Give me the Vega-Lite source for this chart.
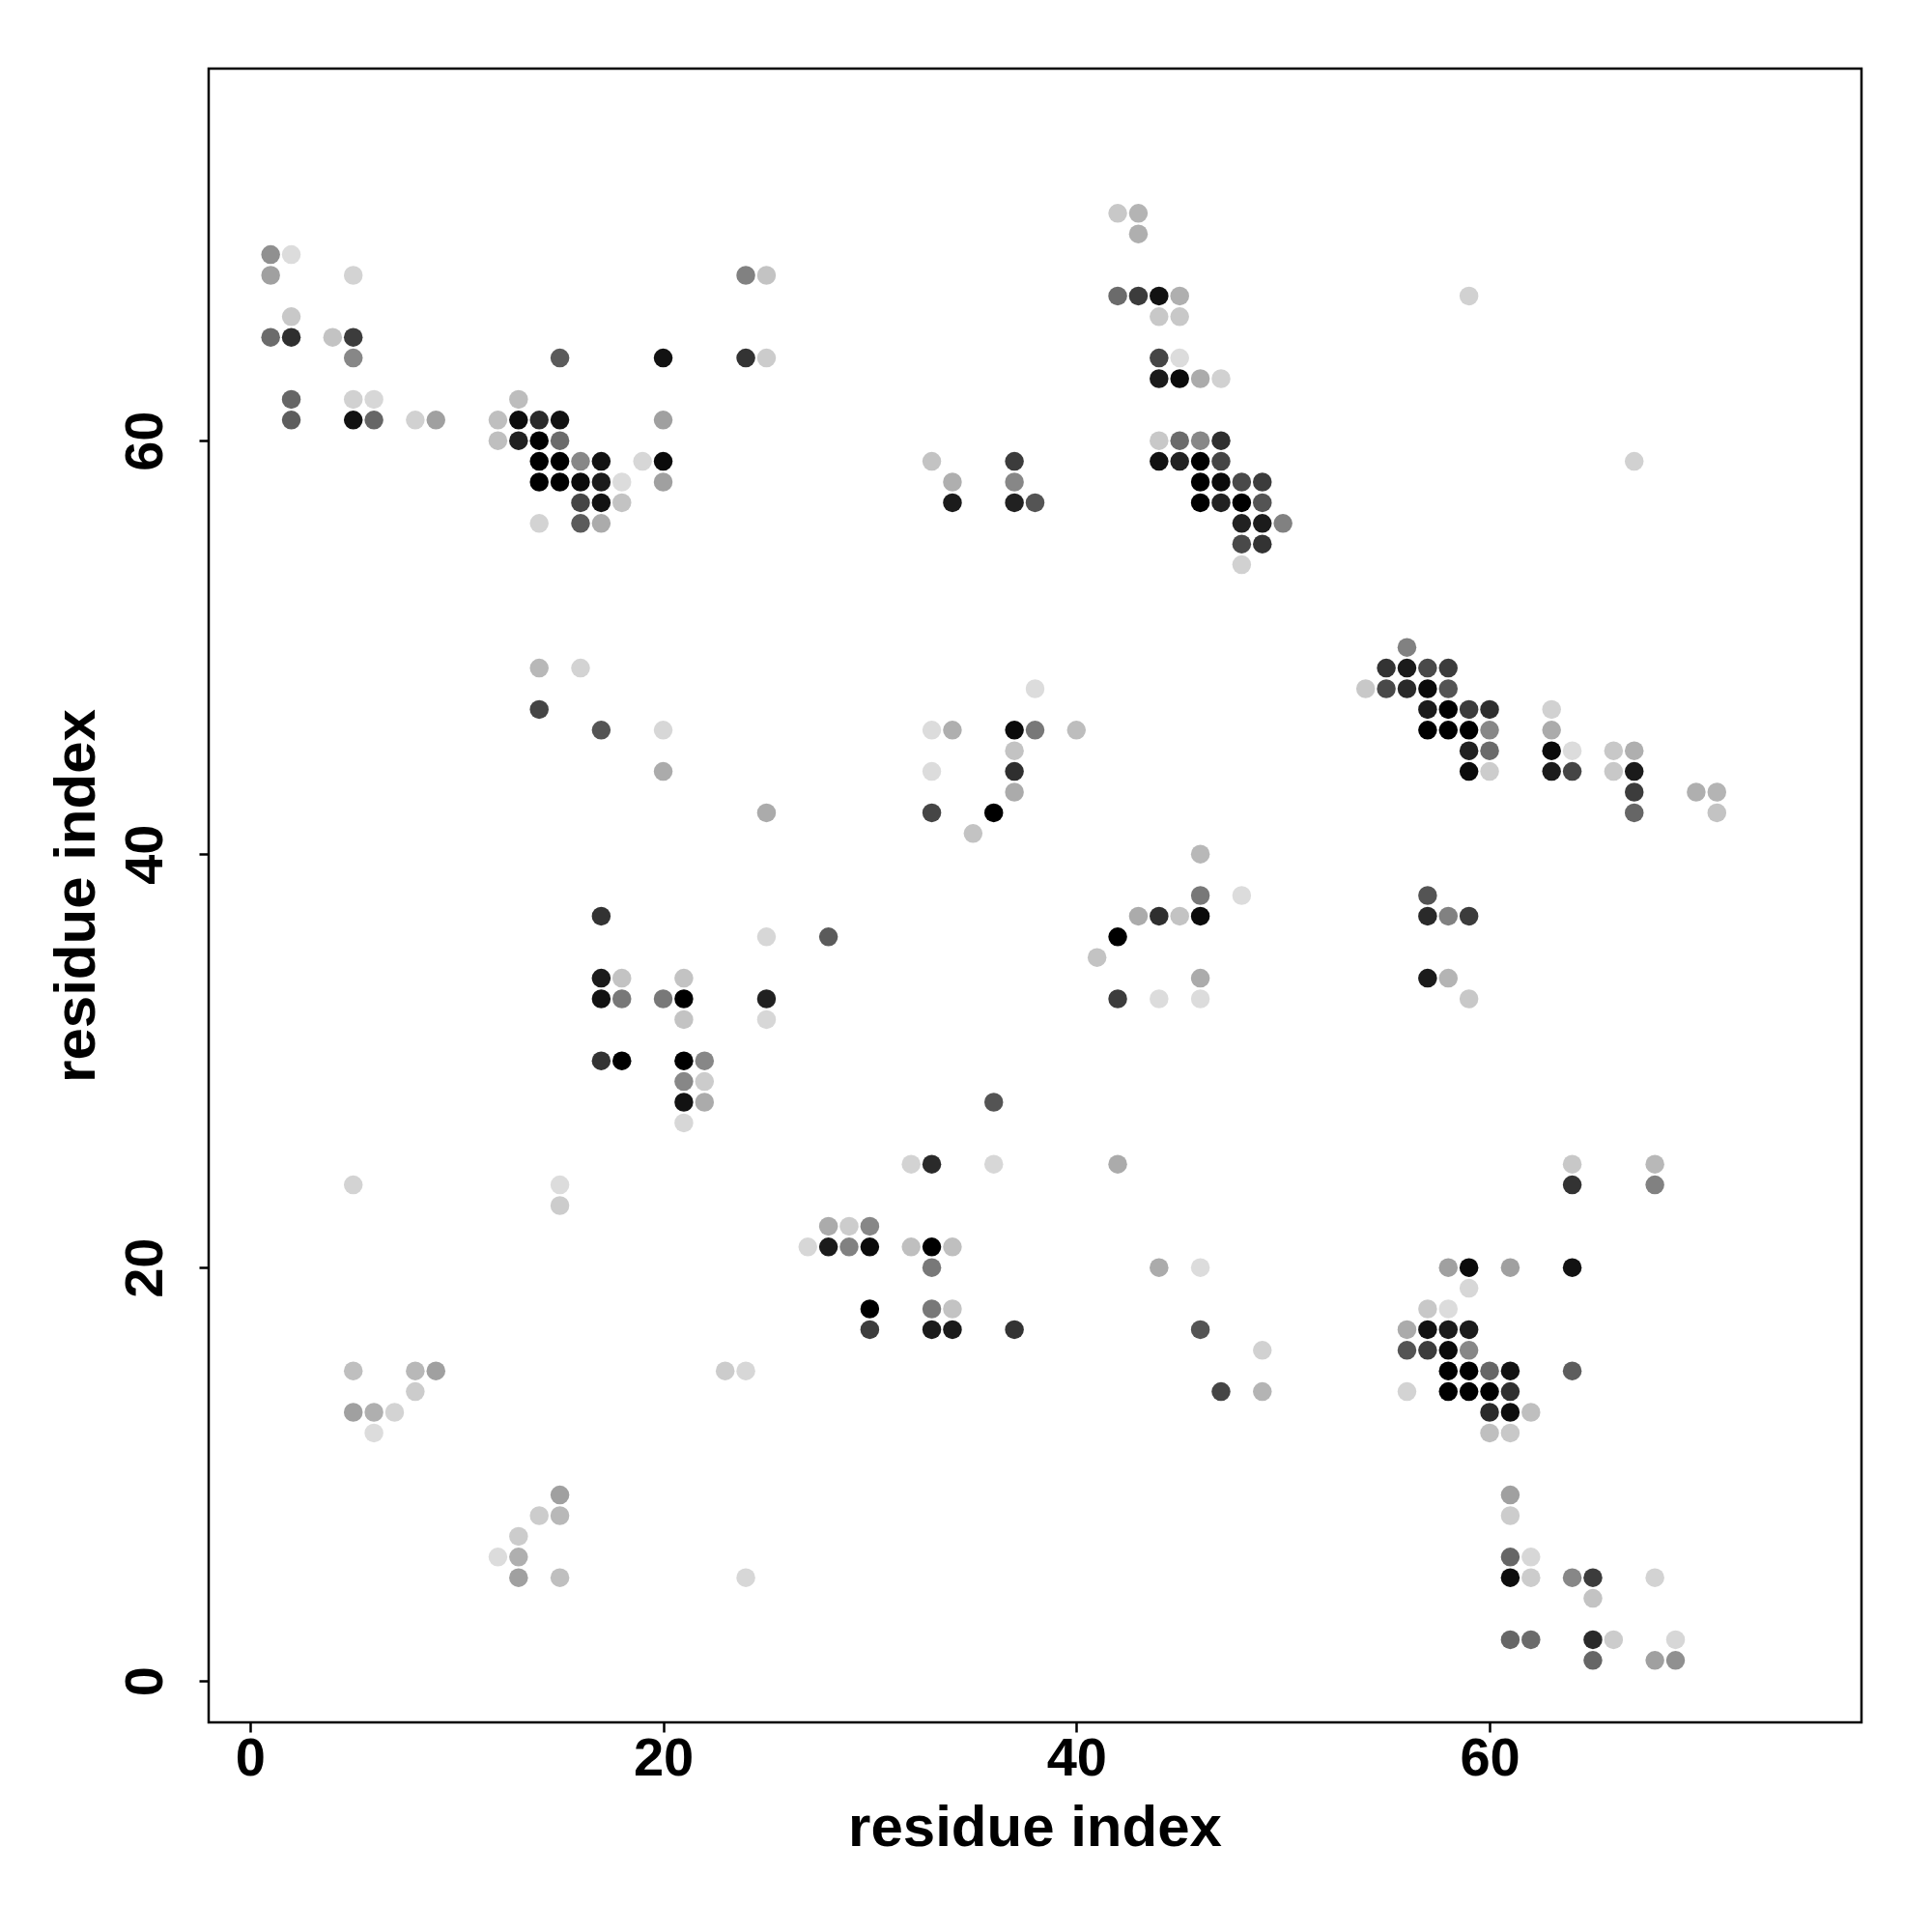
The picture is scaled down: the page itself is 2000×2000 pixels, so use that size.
{
  "$schema": "https://vega.github.io/schema/vega-lite/v6.json",
  "width": 1711,
  "height": 1712,
  "autosize": {"type": "none"},
  "padding": {"left": 216, "top": 71, "right": 73, "bottom": 217},
  "background": "white",
  "config": {"view": {"stroke": "black", "strokeWidth": 2.5}, "font": "Liberation Sans"},
  "data": {"values": [
    {"i":42,"j":71,"p":0.10},{"i":43,"j":71,"p":0.19},
    {"i":43,"j":70,"p":0.21},
    {"i":1,"j":69,"p":0.35},{"i":2,"j":69,"p":0.01},
    {"i":1,"j":68,"p":0.28},{"i":5,"j":68,"p":0.05},{"i":24,"j":68,"p":0.42},{"i":25,"j":68,"p":0.12},
    {"i":42,"j":67,"p":0.52},{"i":43,"j":67,"p":0.73},{"i":44,"j":67,"p":0.92},{"i":45,"j":67,"p":0.21},{"i":59,"j":67,"p":0.06},
    {"i":2,"j":66,"p":0.10},{"i":44,"j":66,"p":0.10},{"i":45,"j":66,"p":0.10},
    {"i":1,"j":65,"p":0.52},{"i":2,"j":65,"p":0.79},{"i":4,"j":65,"p":0.12},{"i":5,"j":65,"p":0.73},
    {"i":5,"j":64,"p":0.39},{"i":15,"j":64,"p":0.59},{"i":20,"j":64,"p":0.92},{"i":24,"j":64,"p":0.77},{"i":25,"j":64,"p":0.08},{"i":44,"j":64,"p":0.69},{"i":45,"j":64,"p":0.01},
    {"i":44,"j":63,"p":0.88},{"i":45,"j":63,"p":0.95},{"i":46,"j":63,"p":0.23},{"i":47,"j":63,"p":0.06},
    {"i":2,"j":62,"p":0.54},{"i":5,"j":62,"p":0.06},{"i":6,"j":62,"p":0.03},{"i":13,"j":62,"p":0.15},
    {"i":2,"j":61,"p":0.58},{"i":5,"j":61,"p":0.92},{"i":6,"j":61,"p":0.54},{"i":8,"j":61,"p":0.06},{"i":9,"j":61,"p":0.28},{"i":12,"j":61,"p":0.14},{"i":13,"j":61,"p":0.94},{"i":14,"j":61,"p":0.81},{"i":15,"j":61,"p":0.92},{"i":20,"j":61,"p":0.28},
    {"i":12,"j":60,"p":0.14},{"i":13,"j":60,"p":0.85},{"i":14,"j":60,"p":1.0},{"i":15,"j":60,"p":0.52},{"i":44,"j":60,"p":0.10},{"i":45,"j":60,"p":0.52},{"i":46,"j":60,"p":0.39},{"i":47,"j":60,"p":0.79},
    {"i":14,"j":59,"p":1.0},{"i":15,"j":59,"p":1.0},{"i":16,"j":59,"p":0.39},{"i":17,"j":59,"p":0.92},{"i":19,"j":59,"p":0.03},{"i":20,"j":59,"p":0.95},{"i":33,"j":59,"p":0.12},{"i":37,"j":59,"p":0.73},{"i":44,"j":59,"p":0.92},{"i":45,"j":59,"p":0.85},{"i":46,"j":59,"p":1.0},{"i":47,"j":59,"p":0.69},{"i":67,"j":59,"p":0.06},
    {"i":14,"j":58,"p":1.0},{"i":15,"j":58,"p":1.0},{"i":16,"j":58,"p":0.95},{"i":17,"j":58,"p":0.88},{"i":18,"j":58,"p":0.01},{"i":20,"j":58,"p":0.28},{"i":34,"j":58,"p":0.21},{"i":37,"j":58,"p":0.39},{"i":46,"j":58,"p":1.0},{"i":47,"j":58,"p":0.95},{"i":48,"j":58,"p":0.67},{"i":49,"j":58,"p":0.73},
    {"i":16,"j":57,"p":0.69},{"i":17,"j":57,"p":0.92},{"i":18,"j":57,"p":0.12},{"i":34,"j":57,"p":0.88},{"i":37,"j":57,"p":0.85},{"i":38,"j":57,"p":0.62},{"i":46,"j":57,"p":1.0},{"i":47,"j":57,"p":0.85},{"i":48,"j":57,"p":1.0},{"i":49,"j":57,"p":0.62},
    {"i":14,"j":56,"p":0.05},{"i":16,"j":56,"p":0.59},{"i":17,"j":56,"p":0.23},{"i":48,"j":56,"p":0.85},{"i":49,"j":56,"p":0.88},{"i":50,"j":56,"p":0.42},
    {"i":48,"j":55,"p":0.67},{"i":49,"j":55,"p":0.77},
    {"i":48,"j":54,"p":0.06},
    {"i":56,"j":50,"p":0.42},
    {"i":14,"j":49,"p":0.17},{"i":16,"j":49,"p":0.05},{"i":55,"j":49,"p":0.77},{"i":56,"j":49,"p":0.88},{"i":57,"j":49,"p":0.67},{"i":58,"j":49,"p":0.73},
    {"i":38,"j":48,"p":0.01},{"i":54,"j":48,"p":0.10},{"i":55,"j":48,"p":0.67},{"i":56,"j":48,"p":0.81},{"i":57,"j":48,"p":0.95},{"i":58,"j":48,"p":0.62},
    {"i":14,"j":47,"p":0.69},{"i":57,"j":47,"p":0.88},{"i":58,"j":47,"p":1.0},{"i":59,"j":47,"p":0.73},{"i":60,"j":47,"p":0.79},{"i":63,"j":47,"p":0.06},
    {"i":17,"j":46,"p":0.62},{"i":20,"j":46,"p":0.03},{"i":33,"j":46,"p":0.01},{"i":34,"j":46,"p":0.21},{"i":37,"j":46,"p":0.95},{"i":38,"j":46,"p":0.46},{"i":40,"j":46,"p":0.15},{"i":57,"j":46,"p":1.0},{"i":58,"j":46,"p":1.0},{"i":59,"j":46,"p":1.0},{"i":60,"j":46,"p":0.39},{"i":63,"j":46,"p":0.23},
    {"i":37,"j":45,"p":0.12},{"i":59,"j":45,"p":0.85},{"i":60,"j":45,"p":0.52},{"i":63,"j":45,"p":0.95},{"i":64,"j":45,"p":0.01},{"i":66,"j":45,"p":0.10},{"i":67,"j":45,"p":0.21},
    {"i":20,"j":44,"p":0.23},{"i":33,"j":44,"p":0.01},{"i":37,"j":44,"p":0.79},{"i":59,"j":44,"p":0.95},{"i":60,"j":44,"p":0.08},{"i":63,"j":44,"p":0.88},{"i":64,"j":44,"p":0.69},{"i":66,"j":44,"p":0.10},{"i":67,"j":44,"p":0.88},
    {"i":37,"j":43,"p":0.23},{"i":67,"j":43,"p":0.73},{"i":70,"j":43,"p":0.21},{"i":71,"j":43,"p":0.19},
    {"i":25,"j":42,"p":0.23},{"i":33,"j":42,"p":0.69},{"i":36,"j":42,"p":1.0},{"i":67,"j":42,"p":0.54},{"i":71,"j":42,"p":0.12},
    {"i":35,"j":41,"p":0.12},
    {"i":46,"j":40,"p":0.17},
    {"i":46,"j":38,"p":0.46},{"i":48,"j":38,"p":0.01},{"i":57,"j":38,"p":0.62},
    {"i":17,"j":37,"p":0.77},{"i":43,"j":37,"p":0.23},{"i":44,"j":37,"p":0.79},{"i":45,"j":37,"p":0.12},{"i":46,"j":37,"p":0.95},{"i":57,"j":37,"p":0.81},{"i":58,"j":37,"p":0.42},{"i":59,"j":37,"p":0.73},
    {"i":25,"j":36,"p":0.03},{"i":28,"j":36,"p":0.59},{"i":42,"j":36,"p":1.0},
    {"i":41,"j":35,"p":0.12},
    {"i":17,"j":34,"p":0.88},{"i":18,"j":34,"p":0.12},{"i":21,"j":34,"p":0.12},{"i":46,"j":34,"p":0.23},{"i":57,"j":34,"p":0.88},{"i":58,"j":34,"p":0.19},
    {"i":17,"j":33,"p":0.92},{"i":18,"j":33,"p":0.46},{"i":20,"j":33,"p":0.46},{"i":21,"j":33,"p":1.0},{"i":25,"j":33,"p":0.85},{"i":42,"j":33,"p":0.73},{"i":44,"j":33,"p":0.01},{"i":46,"j":33,"p":0.01},{"i":59,"j":33,"p":0.10},
    {"i":21,"j":32,"p":0.12},{"i":25,"j":32,"p":0.03},
    {"i":17,"j":30,"p":0.77},{"i":18,"j":30,"p":1.0},{"i":21,"j":30,"p":1.0},{"i":22,"j":30,"p":0.39},
    {"i":21,"j":29,"p":0.39},{"i":22,"j":29,"p":0.08},
    {"i":21,"j":28,"p":0.92},{"i":22,"j":28,"p":0.23},{"i":36,"j":28,"p":0.62},
    {"i":21,"j":27,"p":0.03},
    {"i":32,"j":25,"p":0.05},{"i":33,"j":25,"p":0.81},{"i":36,"j":25,"p":0.03},{"i":42,"j":25,"p":0.23},{"i":64,"j":25,"p":0.10},{"i":68,"j":25,"p":0.17},
    {"i":5,"j":24,"p":0.05},{"i":15,"j":24,"p":0.01},{"i":64,"j":24,"p":0.77},{"i":68,"j":24,"p":0.42},
    {"i":15,"j":23,"p":0.08},
    {"i":28,"j":22,"p":0.23},{"i":29,"j":22,"p":0.08},{"i":30,"j":22,"p":0.39},
    {"i":27,"j":21,"p":0.03},{"i":28,"j":21,"p":0.88},{"i":29,"j":21,"p":0.42},{"i":30,"j":21,"p":0.95},{"i":32,"j":21,"p":0.14},{"i":33,"j":21,"p":1.0},{"i":34,"j":21,"p":0.14},
    {"i":33,"j":20,"p":0.46},{"i":44,"j":20,"p":0.23},{"i":46,"j":20,"p":0.01},{"i":58,"j":20,"p":0.28},{"i":59,"j":20,"p":0.95},{"i":61,"j":20,"p":0.28},{"i":64,"j":20,"p":0.92},
    {"i":59,"j":19,"p":0.03},
    {"i":30,"j":18,"p":1.0},{"i":33,"j":18,"p":0.46},{"i":34,"j":18,"p":0.12},{"i":57,"j":18,"p":0.10},{"i":58,"j":18,"p":0.01},
    {"i":30,"j":17,"p":0.73},{"i":33,"j":17,"p":0.88},{"i":34,"j":17,"p":0.88},{"i":37,"j":17,"p":0.77},{"i":46,"j":17,"p":0.62},{"i":56,"j":17,"p":0.23},{"i":57,"j":17,"p":0.92},{"i":58,"j":17,"p":0.88},{"i":59,"j":17,"p":0.88},
    {"i":49,"j":16,"p":0.06},{"i":56,"j":16,"p":0.62},{"i":57,"j":16,"p":0.73},{"i":58,"j":16,"p":0.95},{"i":59,"j":16,"p":0.39},
    {"i":5,"j":15,"p":0.14},{"i":8,"j":15,"p":0.17},{"i":9,"j":15,"p":0.28},{"i":23,"j":15,"p":0.08},{"i":24,"j":15,"p":0.03},{"i":58,"j":15,"p":1.0},{"i":59,"j":15,"p":1.0},{"i":60,"j":15,"p":0.54},{"i":61,"j":15,"p":0.92},{"i":64,"j":15,"p":0.58},
    {"i":8,"j":14,"p":0.08},{"i":47,"j":14,"p":0.69},{"i":49,"j":14,"p":0.19},{"i":56,"j":14,"p":0.05},{"i":58,"j":14,"p":1.0},{"i":59,"j":14,"p":1.0},{"i":60,"j":14,"p":1.0},{"i":61,"j":14,"p":0.79},
    {"i":5,"j":13,"p":0.28},{"i":6,"j":13,"p":0.21},{"i":7,"j":13,"p":0.05},{"i":60,"j":13,"p":0.81},{"i":61,"j":13,"p":0.94},{"i":62,"j":13,"p":0.14},
    {"i":6,"j":12,"p":0.01},{"i":60,"j":12,"p":0.14},{"i":61,"j":12,"p":0.10},
    {"i":15,"j":9,"p":0.28},{"i":61,"j":9,"p":0.28},
    {"i":14,"j":8,"p":0.08},{"i":15,"j":8,"p":0.17},{"i":61,"j":8,"p":0.08},
    {"i":13,"j":7,"p":0.08},
    {"i":12,"j":6,"p":0.01},{"i":13,"j":6,"p":0.21},{"i":61,"j":6,"p":0.54},{"i":62,"j":6,"p":0.03},
    {"i":13,"j":5,"p":0.28},{"i":15,"j":5,"p":0.14},{"i":24,"j":5,"p":0.03},{"i":61,"j":5,"p":0.94},{"i":62,"j":5,"p":0.08},{"i":64,"j":5,"p":0.39},{"i":65,"j":5,"p":0.73},{"i":68,"j":5,"p":0.05},
    {"i":65,"j":4,"p":0.12},
    {"i":61,"j":2,"p":0.54},{"i":62,"j":2,"p":0.52},{"i":65,"j":2,"p":0.81},{"i":66,"j":2,"p":0.08},{"i":69,"j":2,"p":0.03},
    {"i":65,"j":1,"p":0.54},{"i":68,"j":1,"p":0.28},{"i":69,"j":1,"p":0.35}
  ]},
  "mark": {"type": "circle", "size": 380, "opacity": 1},
  "encoding": {
    "x": {
      "field": "i", "type": "quantitative",
      "scale": {"domain": [-2, 78], "nice": false, "zero": false},
      "axis": {
        "values": [0, 20, 40, 60], "grid": false, "domain": false,
        "tickColor": "black", "tickWidth": 2.5, "tickSize": 10,
        "labelFont": "Liberation Sans", "labelFontWeight": "bold", "labelFontSize": 56, "labelColor": "black",
        "labelBaseline": "middle", "labelPadding": 27,
        "title": "residue index", "titleFont": "Liberation Sans", "titleFontWeight": "bold", "titleFontSize": 60, "titleColor": "black",
        "titleX": 855, "titleY": 109, "titleBaseline": "middle", "titleAlign": "center"
      }
    },
    "y": {
      "field": "j", "type": "quantitative",
      "scale": {"domain": [-2, 78], "nice": false, "zero": false},
      "axis": {
        "values": [0, 20, 40, 60], "grid": false, "domain": false,
        "tickColor": "black", "tickWidth": 2.5, "tickSize": 10,
        "labelFont": "Liberation Sans", "labelFontWeight": "bold", "labelFontSize": 56, "labelColor": "black",
        "labelAngle": -90, "labelAlign": "center", "labelBaseline": "middle", "labelPadding": 56,
        "title": "residue index", "titleFont": "Liberation Sans", "titleFontWeight": "bold", "titleFontSize": 60, "titleColor": "black",
        "titleX": -137, "titleY": 856, "titleAngle": -90, "titleBaseline": "middle", "titleAlign": "center"
      }
    },
    "color": {
      "field": "p", "type": "quantitative",
      "scale": {"domain": [0, 1], "range": ["#dedede", "#000000"], "interpolate": "rgb"},
      "legend": null
    }
  }
}
